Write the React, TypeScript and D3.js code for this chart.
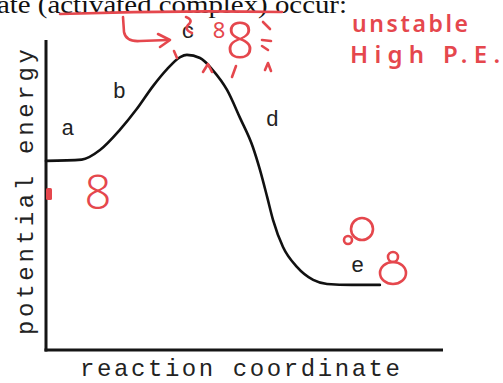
import React from "react";
import * as d3 from "d3";

// Potential-energy profile along the reaction coordinate (arbitrary units 0–100)
const reactionCoord = [0, 9, 13.6, 18.6, 22.9, 27, 30.5, 33.8, 35.5, 38.8, 42, 45.6, 48.9, 52.1, 53.9, 55.7, 57.2, 59.7, 63.2, 67.3, 70.8, 77, 84.1];
const potentialEnergy = [61, 61.4, 64.5, 71, 77.8, 85.2, 90.6, 94.5, 95.2, 94.2, 90.3, 83.9, 74.8, 65.5, 58.1, 49.4, 41.9, 33.2, 26.8, 22.6, 21.3, 21, 21];

// Region letters placed along the curve
const regionLabels = ["a", "b", "c", "d", "e"];
const regionX = [5.5, 18.5, 35.8, 57, 78.5];
const regionY = [71, 83, 102.5, 74, 27];

const W = 503;
const H = 383;
const RED = "#e5474d";

export default function App() {
  const x = d3.scaleLinear().domain([0, 100]).range([46, 443]);
  const y = d3.scaleLinear().domain([0, 100]).range([350, 40]);

  const pts: [number, number][] = reactionCoord.map((c, i) => [c, potentialEnergy[i]]);
  const line = d3
    .line<[number, number]>()
    .x((d) => x(d[0]))
    .y((d) => y(d[1]))
    .curve(d3.curveMonotoneX);

  const mono = "'Liberation Mono', 'DejaVu Sans Mono', monospace";
  const hand = "'Noto Sans', 'DejaVu Sans', sans-serif";

  return (
    <svg
      width={W}
      height={H}
      viewBox={`0 0 ${W} ${H}`}
      style={{ position: "absolute", left: 0, top: 0, background: "#fff" }}
    >
      {/* worksheet sentence, clipped at the top edge */}
      <text
        x={-3}
        y={13}
        fontFamily="'Liberation Serif', 'Times New Roman', serif"
        fontSize={25}
        fill="#111"
        textLength={350}
        lengthAdjust="spacingAndGlyphs"
      >
        ate (activated complex) occur:
      </text>

      {/* axes */}
      <line x1={x(0)} y1={y(100)} x2={x(0)} y2={y(0) + 1.5} stroke="#151515" strokeWidth={3} />
      <line x1={x(0) - 1.5} y1={y(0)} x2={x(100)} y2={y(0)} stroke="#151515" strokeWidth={3} />

      {/* axis titles */}
      <text
        x={240}
        y={376}
        textAnchor="middle"
        fontFamily={mono}
        fontSize={24}
        fill="#222"
        textLength={320}
        lengthAdjust="spacing"
      >
        reaction coordinate
      </text>
      <text
        transform={`translate(33, 192) rotate(-90)`}
        textAnchor="middle"
        fontFamily={mono}
        fontSize={24}
        fill="#222"
        textLength={286}
        lengthAdjust="spacing"
      >
        potential energy
      </text>

      {/* energy profile */}
      <path d={line(pts) ?? ""} fill="none" stroke="#111" strokeWidth={2.6} strokeLinejoin="round" strokeLinecap="round" />

      {/* region letters */}
      {regionLabels.map((l, i) => (
        <text
          key={l}
          x={x(regionX[i])}
          y={y(regionY[i])}
          textAnchor="middle"
          dominantBaseline="central"
          fontFamily={mono}
          fontSize={22}
          fill="#222"
        >
          {l}
        </text>
      ))}

      {/* red pen annotations */}
      <g stroke={RED} fill="none" strokeWidth={2.6} strokeLinecap="round" strokeLinejoin="round">
        <path d="M60 14 Q170 10 282 12" />
        <path d="M123 17 L124 32 Q126 42 140 41 L168 40" />
        <path d="M158 34 L170 40 L160 47" />
        <path d="M186 17 Q194 20 188 25 Q184 30 192 33" />
        <path d="M263 22 L270 29 M262 40 L271 41 M262 46 L268 50" />
        <path d="M203 72 L208 64 L212 72" />
        <path d="M232 77 L236 66" />
        <path d="M265 70 L268 63 L271 71" />
        <path d="M174 51 L177 58" />
        <circle cx={362} cy={229} r={11} />
        <circle cx={348} cy={240} r={4} />
        <ellipse cx={393} cy={273} rx={13} ry={11} />
        <circle cx={393} cy={257} r={5} />
      </g>
      <rect x={46} y={188} width={6} height={12} fill={RED} rx={1.5} />

      <text x={219} y={38} textAnchor="middle" fontFamily={hand} fontSize={22} fill={RED}>8</text>
      <text x={240} y={58} textAnchor="middle" fontFamily={hand} fontSize={50} fill={RED} fontWeight={300}>8</text>
      <text x={98} y={209} textAnchor="middle" fontFamily={hand} fontSize={47} fill={RED} fontWeight={300}>8</text>

      <text x={352} y={32} fontFamily={hand} fontSize={23} fill={RED} fontWeight={600} textLength={116}>
        unstable
      </text>
      <text x={350} y={63} fontFamily={hand} fontSize={24} fill={RED} fontWeight={600} textLength={150}>
        High P.E.
      </text>
    </svg>
  );
}
